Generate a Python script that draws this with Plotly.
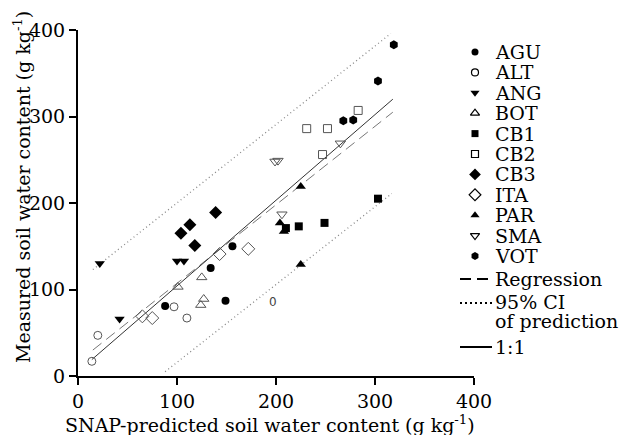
import plotly.graph_objects as go

# ---------------- data ----------------
series_names = ["AGU", "ALT", "ANG", "BOT", "CB1", "CB2", "CB3", "ITA", "PAR", "SMA", "VOT"]

AGU_x = [88, 134, 156, 149]; AGU_y = [81, 125, 150, 87]
ALT_x = [20, 14, 97, 110];   ALT_y = [47, 17, 80, 67]
ANG_x = [22, 42, 100, 107];  ANG_y = [130, 66, 133, 133]
BOT_x = [101, 125, 127, 124]; BOT_y = [103, 114, 89, 82]
CB1_x = [210, 223, 249, 303]; CB1_y = [171, 173, 177, 205]
CB2_x = [231, 252, 283, 247]; CB2_y = [286, 286, 307, 256]
CB3_x = [139, 113, 104, 118]; CB3_y = [189, 175, 165, 151]
ITA_x = [65, 75, 143, 172];  ITA_y = [69, 67, 141, 147]
PAR_x = [204, 208, 225, 225]; PAR_y = [177, 167, 219, 129]
SMA_x = [199, 202, 265, 206]; SMA_y = [248, 249, 269, 187]
VOT_x = [268, 278, 303, 319]; VOT_y = [295, 296, 341, 383]

REG_x = [15, 318];  REG_y = [30, 305]
CIU_x = [15, 316];  CIU_y = [123, 396]
CIL_x = [88, 317];  CIL_y = [5, 211]
ONE_x = [14, 318];  ONE_y = [19, 320]

STRAY_x = 197; STRAY_y = 85; STRAY_text = "0"

x_ticks = [0, 100, 200, 300, 400]
y_ticks = [0, 100, 200, 300, 400]

line_labels = ["Regression", "95% CI", "of prediction", "1:1"]

# ---------------- styles ----------------
W, H = 622, 435
PX0, PX1 = 78, 474     # plot area in pixels
PY0, PY1 = 30, 376
SERIF = "DejaVu Serif"
FS = 19

sty = {
    "AGU": dict(symbol="circle", size=8, color="black", line=dict(width=0, color="black")),
    "ALT": dict(symbol="circle-open", size=8, color="#555", line=dict(width=1, color="#555")),
    "ANG": dict(symbol="triangle-down", size=9, color="black", line=dict(width=0, color="black")),
    "BOT": dict(symbol="triangle-up-open", size=9, color="#555", line=dict(width=1, color="#555")),
    "CB1": dict(symbol="square", size=8, color="black", line=dict(width=0, color="black")),
    "CB2": dict(symbol="square-open", size=8, color="#555", line=dict(width=1, color="#555")),
    "CB3": dict(symbol="diamond", size=10, color="black", line=dict(width=0, color="black")),
    "ITA": dict(symbol="diamond-open", size=10, color="#555", line=dict(width=1, color="#555")),
    "PAR": dict(symbol="triangle-up", size=9, color="black", line=dict(width=0, color="black")),
    "SMA": dict(symbol="triangle-down-open", size=9, color="#555", line=dict(width=1, color="#555")),
    "VOT": dict(symbol="hexagon", size=9, color="black", line=dict(width=0, color="black")),
}
data = {
    "AGU": (AGU_x, AGU_y), "ALT": (ALT_x, ALT_y), "ANG": (ANG_x, ANG_y),
    "BOT": (BOT_x, BOT_y), "CB1": (CB1_x, CB1_y), "CB2": (CB2_x, CB2_y),
    "CB3": (CB3_x, CB3_y), "ITA": (ITA_x, ITA_y), "PAR": (PAR_x, PAR_y),
    "SMA": (SMA_x, SMA_y), "VOT": (VOT_x, VOT_y),
}

fig = go.Figure()

# lines
fig.add_trace(go.Scatter(x=CIU_x, y=CIU_y, mode="lines", showlegend=False,
                         line=dict(color="#888", width=1.3, dash="1px,3px")))
fig.add_trace(go.Scatter(x=CIL_x, y=CIL_y, mode="lines", showlegend=False,
                         line=dict(color="#888", width=1.3, dash="1px,3px")))
fig.add_trace(go.Scatter(x=REG_x, y=REG_y, mode="lines", showlegend=False,
                         line=dict(color="#777", width=1, dash="11px,6px")))
fig.add_trace(go.Scatter(x=ONE_x, y=ONE_y, mode="lines", showlegend=False,
                         line=dict(color="#333", width=1)))

for name in series_names:
    xs, ys = data[name]
    s = sty[name]
    fig.add_trace(go.Scatter(x=xs, y=ys, mode="markers", name=name, showlegend=False,
                             marker=dict(symbol=s["symbol"], size=s["size"], color=s["color"],
                                         line=s["line"])))

fig.add_annotation(x=STRAY_x, y=STRAY_y, xref="x", yref="y", text=STRAY_text, showarrow=False,
                   font=dict(family="DejaVu Sans", size=12, color="#444"))

# ---------------- manual legend on a pixel-space overlay ----------------
LEG_MX = 475
LEG_TX = 493
LEG_Y0 = 52
LEG_DY = 20.4
for i, name in enumerate(series_names):
    s = sty[name]
    yy = LEG_Y0 + LEG_DY * i
    fig.add_trace(go.Scatter(x=[LEG_MX], y=[yy], mode="markers", xaxis="x2", yaxis="y2",
                             showlegend=False, hoverinfo="skip",
                             marker=dict(symbol=s["symbol"], size=s["size"] - 1, color="black",
                                         line=dict(width=1.2 if "open" in s["symbol"] else 0, color="black"))))
    fig.add_annotation(x=LEG_TX, y=yy, xref="x2", yref="y2", text=name, showarrow=False,
                       xanchor="left", yanchor="middle",
                       font=dict(family=SERIF, size=FS, color="black"))

LL_X0, LL_X1 = 460, 492
leg_line_y = [279, 303, 347]
leg_line_dash = ["11px,6px", "2px,3px", "solid"]
for ly, dsh in zip(leg_line_y, leg_line_dash):
    fig.add_trace(go.Scatter(x=[LL_X0, LL_X1], y=[ly, ly], mode="lines", xaxis="x2", yaxis="y2",
                             showlegend=False, hoverinfo="skip",
                             line=dict(color="black", width=2, dash=dsh)))
leg_text_y = [279, 302, 321, 347]
for lbl, ty in zip(line_labels, leg_text_y):
    fig.add_annotation(x=LEG_TX, y=ty, xref="x2", yref="y2", text=lbl, showarrow=False,
                       xanchor="left", yanchor="middle", align="left",
                       font=dict(family=SERIF, size=FS, color="black"))

# axis titles
fig.add_annotation(x=270, y=424, xref="x2", yref="y2", showarrow=False,
                   text="SNAP-predicted soil water content (g kg<sup>-1</sup>)",
                   font=dict(family=SERIF, size=FS, color="black"))
fig.add_annotation(x=22, y=187, xref="x2", yref="y2", showarrow=False, textangle=-90,
                   text="Measured soil water content (g kg<sup>-1</sup>)",
                   font=dict(family=SERIF, size=FS, color="black"))

axis_common = dict(showline=True, linewidth=2, linecolor="black", ticks="outside",
                   ticklen=7, tickwidth=2, tickcolor="black", showgrid=False, zeroline=False,
                   tickfont=dict(family=SERIF, size=FS, color="black"), automargin=False)

fig.update_layout(
    width=W, height=H,
    margin=dict(l=0, r=0, t=0, b=0),
    paper_bgcolor="white", plot_bgcolor="rgba(0,0,0,0)",
    showlegend=False,
    xaxis=dict(domain=[PX0 / W, PX1 / W], range=[0, 400], tickvals=x_ticks,
               anchor="y", **axis_common),
    yaxis=dict(domain=[1 - PY1 / H, 1 - PY0 / H], range=[0, 400], tickvals=y_ticks,
               anchor="x", **axis_common),
    xaxis2=dict(domain=[0, 1], range=[0, W], visible=False, anchor="y2", fixedrange=True),
    yaxis2=dict(domain=[0, 1], range=[H, 0], visible=False, anchor="x2", fixedrange=True),
)

fig.write_html("out.html", config={"displayModeBar": False},
               post_script="document.body.style.margin='0';document.body.style.overflow='hidden';")
